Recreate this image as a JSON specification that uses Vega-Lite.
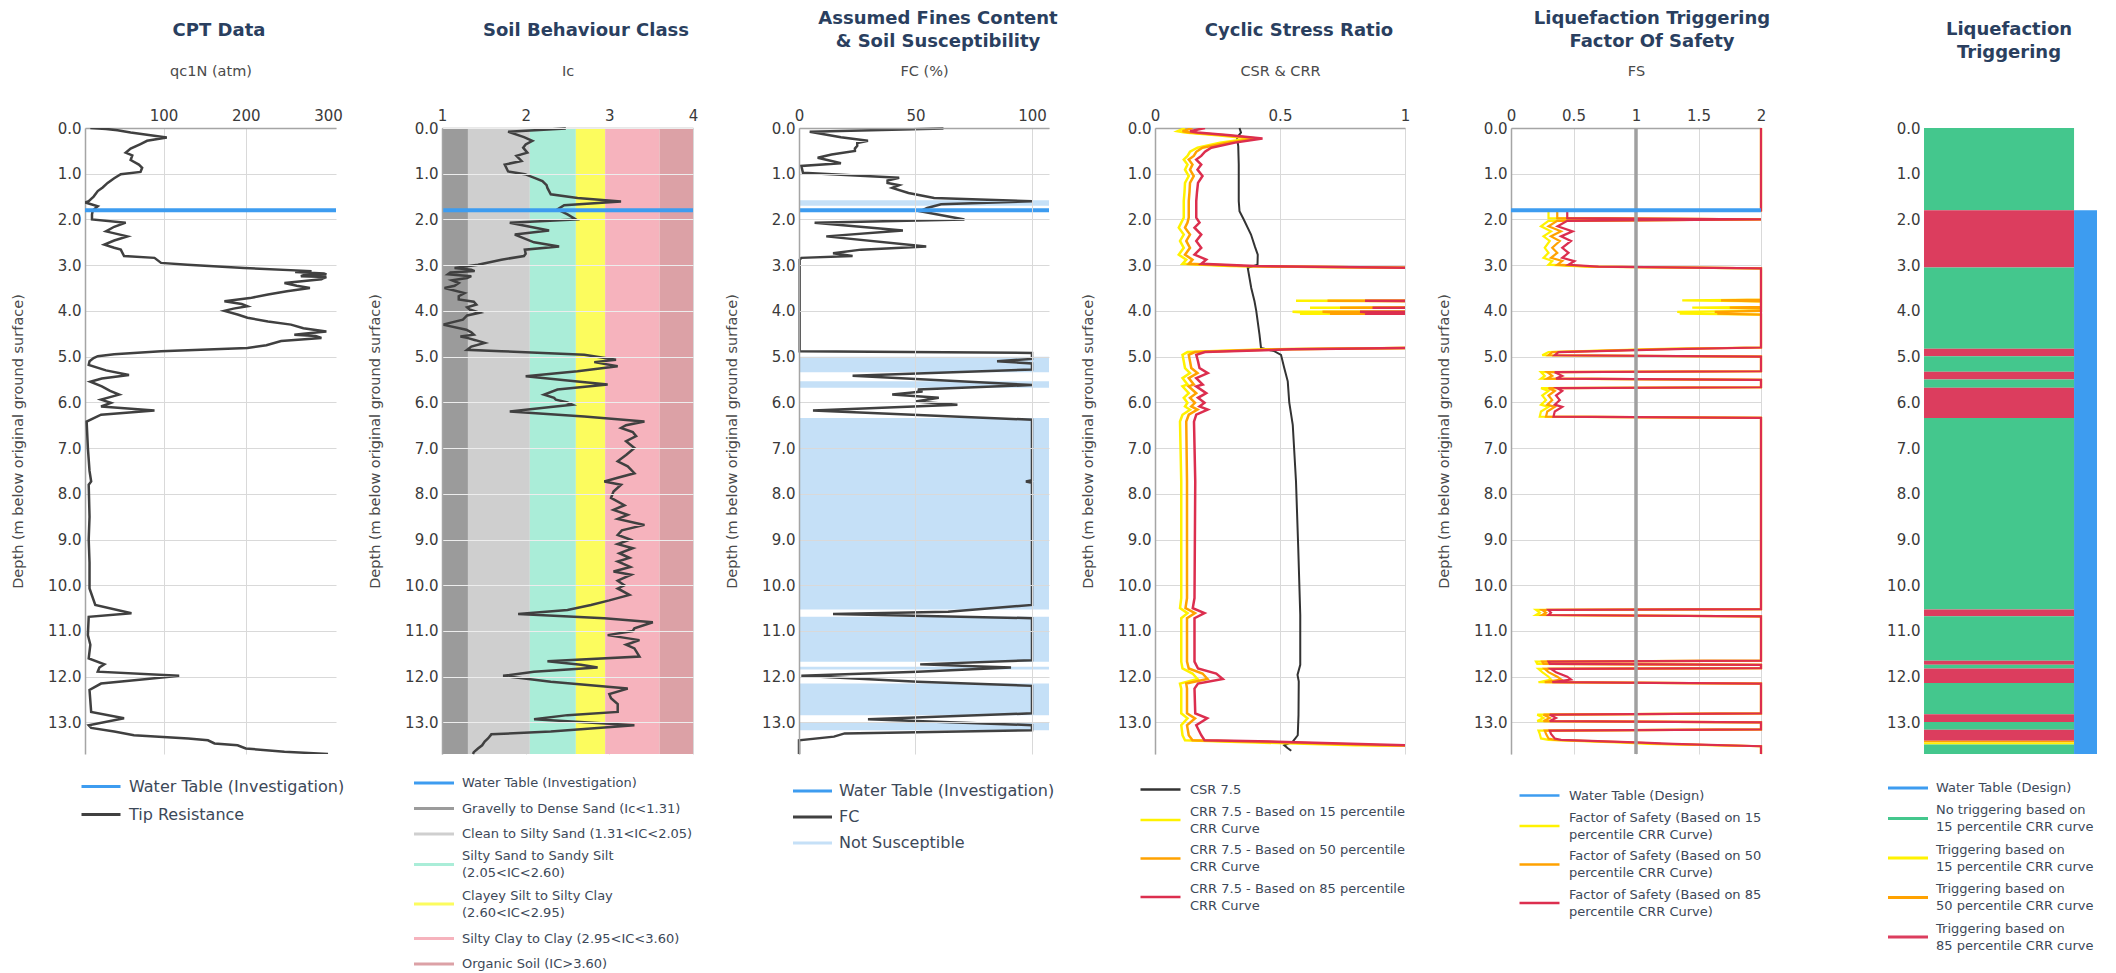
{
  "background": "white",
  "padding": {"left": 10, "top": 9, "right": 10, "bottom": 4},
  "bounds": "flush",
  "spacing": 106,
  "resolve": {"scale": {"color": "independent", "x": "independent", "y": "independent"}},
  "config": {
    "font": "DejaVu Sans",
    "view": {"stroke": null},
    "axis": {"labelFont": "DejaVu Sans", "titleFont": "DejaVu Sans", "labelFontSize": 15, "labelColor": "#3a3a3a", "titleFontSize": 14.5, "titleFontWeight": "normal", "titleColor": "#4a4a4a", "ticks": false, "domainColor": "#a5a5a5", "domainWidth": 1.5, "gridColor": "#d9d9d9", "gridWidth": 1, "labelFlush": false, "labelOverlap": false, "labelBound": false},
    "axisX": {"labelPadding": 5, "titlePadding": 30},
    "axisY": {"labelPadding": 4, "titlePadding": 22},
    "legend": {"padding": 0, "labelFont": "DejaVu Sans", "labelColor": "#3c4858", "labelLimit": 500, "labelOverlap": false, "symbolType": "M-2,0H2", "symbolStrokeWidth": 2.5, "symbolSize": 400, "labelFontSize": 13, "rowPadding": 8.5, "labelOffset": 18, "symbolOpacity": 1},
    "title": {"font": "DejaVu Sans", "fontSize": 18, "fontWeight": "bold", "color": "#2a3f5f", "anchor": "middle", "frame": "group", "baseline": "middle", "offset": 23.5, "lineHeight": 23}
  },
  "datasets": {
    "qc": [{"d":0,"v":11},{"d":0.02,"v":30},{"d":0.05,"v":44},{"d":0.1,"v":60},{"d":0.21,"v":104},{"d":0.28,"v":80},{"d":0.35,"v":72},{"d":0.45,"v":60},{"d":0.54,"v":54},{"d":0.6,"v":62},{"d":0.7,"v":60},{"d":0.8,"v":70},{"d":0.87,"v":74},{"d":0.96,"v":72},{"d":1.01,"v":48},{"d":1.1,"v":40},{"d":1.2,"v":32},{"d":1.3,"v":26},{"d":1.38,"v":20},{"d":1.5,"v":15},{"d":1.6,"v":9},{"d":1.63,"v":5},{"d":1.71,"v":20},{"d":1.8,"v":14},{"d":1.89,"v":13},{"d":2.0,"v":13},{"d":2.07,"v":54},{"d":2.16,"v":40},{"d":2.26,"v":30},{"d":2.37,"v":56},{"d":2.46,"v":40},{"d":2.55,"v":28},{"d":2.62,"v":40},{"d":2.66,"v":48},{"d":2.8,"v":52},{"d":2.84,"v":89},{"d":2.95,"v":97},{"d":2.99,"v":129},{"d":3.06,"v":198},{"d":3.13,"v":280},{"d":3.15,"v":260},{"d":3.18,"v":295},{"d":3.2,"v":298},{"d":3.22,"v":270},{"d":3.24,"v":267},{"d":3.26,"v":298},{"d":3.28,"v":295},{"d":3.31,"v":292},{"d":3.39,"v":247},{"d":3.45,"v":262},{"d":3.5,"v":278},{"d":3.57,"v":250},{"d":3.64,"v":227},{"d":3.72,"v":205},{"d":3.79,"v":174},{"d":3.85,"v":195},{"d":3.9,"v":202},{"d":3.95,"v":185},{"d":4.0,"v":174},{"d":4.08,"v":190},{"d":4.15,"v":202},{"d":4.23,"v":227},{"d":4.3,"v":255},{"d":4.38,"v":270},{"d":4.45,"v":298},{"d":4.5,"v":270},{"d":4.52,"v":259},{"d":4.55,"v":285},{"d":4.59,"v":292},{"d":4.66,"v":243},{"d":4.75,"v":225},{"d":4.81,"v":202},{"d":4.88,"v":97},{"d":4.95,"v":40},{"d":4.99,"v":20},{"d":5.03,"v":15},{"d":5.1,"v":10},{"d":5.18,"v":9},{"d":5.3,"v":30},{"d":5.4,"v":58},{"d":5.48,"v":25},{"d":5.55,"v":11},{"d":5.65,"v":25},{"d":5.75,"v":35},{"d":5.83,"v":46},{"d":5.94,"v":24},{"d":6.01,"v":36},{"d":6.09,"v":24},{"d":6.18,"v":89},{"d":6.27,"v":24},{"d":6.42,"v":6.5},{"d":7.0,"v":8},{"d":7.5,"v":10},{"d":7.73,"v":12},{"d":7.8,"v":9},{"d":8.5,"v":10},{"d":9.0,"v":9},{"d":9.5,"v":10},{"d":10.07,"v":10},{"d":10.43,"v":17},{"d":10.61,"v":61},{"d":10.69,"v":9},{"d":11.09,"v":8},{"d":11.3,"v":11},{"d":11.6,"v":9},{"d":11.73,"v":28},{"d":11.8,"v":22},{"d":11.89,"v":20},{"d":11.98,"v":119},{"d":12.05,"v":80},{"d":12.15,"v":24},{"d":12.29,"v":10},{"d":12.77,"v":12},{"d":12.91,"v":52},{"d":13.06,"v":9},{"d":13.12,"v":12},{"d":13.2,"v":40},{"d":13.28,"v":64},{"d":13.35,"v":130},{"d":13.39,"v":154},{"d":13.46,"v":162},{"d":13.5,"v":190},{"d":13.57,"v":200},{"d":13.64,"v":247},{"d":13.69,"v":300}],
    "ic": [{"d":0.01,"v":2.48},{"d":0.08,"v":1.79},{"d":0.2,"v":1.98},{"d":0.28,"v":2.08},{"d":0.36,"v":2.0},{"d":0.43,"v":1.97},{"d":0.54,"v":2.02},{"d":0.61,"v":1.89},{"d":0.72,"v":1.95},{"d":0.8,"v":1.75},{"d":0.95,"v":1.79},{"d":1.01,"v":1.99},{"d":1.1,"v":2.12},{"d":1.16,"v":2.2},{"d":1.25,"v":2.25},{"d":1.31,"v":2.26},{"d":1.45,"v":2.3},{"d":1.53,"v":2.62},{"d":1.61,"v":3.14},{"d":1.69,"v":2.46},{"d":1.78,"v":2.38},{"d":1.89,"v":2.5},{"d":2.0,"v":2.6},{"d":2.07,"v":1.81},{"d":2.24,"v":2.28},{"d":2.33,"v":1.87},{"d":2.5,"v":2.1},{"d":2.59,"v":2.4},{"d":2.66,"v":1.99},{"d":2.75,"v":2.0},{"d":2.8,"v":1.98},{"d":2.88,"v":1.71},{"d":2.99,"v":1.43},{"d":3.06,"v":1.15},{"d":3.1,"v":1.35},{"d":3.13,"v":1.39},{"d":3.16,"v":1.1},{"d":3.2,"v":1.07},{"d":3.24,"v":1.35},{"d":3.28,"v":1.3},{"d":3.33,"v":1.12},{"d":3.39,"v":1.2},{"d":3.45,"v":1.15},{"d":3.5,"v":1.03},{"d":3.61,"v":1.27},{"d":3.68,"v":1.2},{"d":3.75,"v":1.2},{"d":3.8,"v":1.38},{"d":3.86,"v":1.41},{"d":3.92,"v":1.3},{"d":3.97,"v":1.33},{"d":4.04,"v":1.45},{"d":4.1,"v":1.3},{"d":4.19,"v":1.25},{"d":4.3,"v":1.01},{"d":4.41,"v":1.29},{"d":4.47,"v":1.35},{"d":4.52,"v":1.38},{"d":4.56,"v":1.22},{"d":4.59,"v":1.3},{"d":4.64,"v":1.4},{"d":4.7,"v":1.51},{"d":4.78,"v":1.35},{"d":4.85,"v":1.3},{"d":4.88,"v":1.71},{"d":4.96,"v":2.7},{"d":5.07,"v":3.08},{"d":5.12,"v":2.82},{"d":5.21,"v":3.1},{"d":5.32,"v":2.62},{"d":5.43,"v":2.0},{"d":5.52,"v":2.5},{"d":5.61,"v":2.98},{"d":5.72,"v":2.38},{"d":5.83,"v":2.22},{"d":5.9,"v":2.34},{"d":5.94,"v":2.36},{"d":6.0,"v":2.5},{"d":6.05,"v":2.56},{"d":6.1,"v":2.3},{"d":6.2,"v":1.81},{"d":6.31,"v":2.7},{"d":6.42,"v":3.42},{"d":6.5,"v":3.2},{"d":6.56,"v":3.14},{"d":6.65,"v":3.28},{"d":6.74,"v":3.32},{"d":6.85,"v":3.2},{"d":7.0,"v":3.3},{"d":7.15,"v":3.2},{"d":7.29,"v":3.1},{"d":7.4,"v":3.22},{"d":7.55,"v":3.3},{"d":7.65,"v":3.1},{"d":7.73,"v":2.94},{"d":7.8,"v":3.14},{"d":7.95,"v":3.05},{"d":8.09,"v":3.02},{"d":8.25,"v":3.18},{"d":8.35,"v":3.05},{"d":8.46,"v":3.22},{"d":8.55,"v":3.1},{"d":8.68,"v":3.42},{"d":8.8,"v":3.15},{"d":8.9,"v":3.1},{"d":9.0,"v":3.25},{"d":9.1,"v":3.1},{"d":9.19,"v":3.28},{"d":9.3,"v":3.12},{"d":9.4,"v":3.24},{"d":9.48,"v":3.1},{"d":9.6,"v":3.25},{"d":9.7,"v":3.05},{"d":9.77,"v":3.26},{"d":9.9,"v":3.1},{"d":10.0,"v":3.18},{"d":10.07,"v":3.1},{"d":10.21,"v":3.24},{"d":10.33,"v":3.0},{"d":10.43,"v":2.78},{"d":10.54,"v":2.5},{"d":10.63,"v":1.91},{"d":10.72,"v":2.94},{"d":10.81,"v":3.52},{"d":10.94,"v":3.3},{"d":11.0,"v":3.28},{"d":11.09,"v":2.98},{"d":11.2,"v":3.36},{"d":11.3,"v":3.2},{"d":11.38,"v":3.3},{"d":11.56,"v":3.36},{"d":11.66,"v":2.26},{"d":11.74,"v":2.66},{"d":11.8,"v":2.86},{"d":11.89,"v":2.1},{"d":11.98,"v":1.73},{"d":12.11,"v":2.3},{"d":12.26,"v":3.22},{"d":12.38,"v":3.0},{"d":12.47,"v":3.02},{"d":12.6,"v":3.1},{"d":12.77,"v":3.1},{"d":12.84,"v":2.5},{"d":12.93,"v":2.1},{"d":13.06,"v":3.3},{"d":13.2,"v":2.3},{"d":13.26,"v":1.59},{"d":13.35,"v":1.55},{"d":13.42,"v":1.51},{"d":13.5,"v":1.48},{"d":13.57,"v":1.43},{"d":13.65,"v":1.38},{"d":13.69,"v":1.37}],
    "soil": [{"c":"Gravelly to Dense Sand (Ic<1.31)","x1":1,"x2":1.31},{"c":"Clean to Silty Sand (1.31<IC<2.05)","x1":1.31,"x2":2.05},{"c":"Silty Sand to Sandy Silt|(2.05<IC<2.60)","x1":2.05,"x2":2.6},{"c":"Clayey Silt to Silty Clay|(2.60<IC<2.95)","x1":2.6,"x2":2.95},{"c":"Silty Clay to Clay (2.95<IC<3.60)","x1":2.95,"x2":3.6},{"c":"Organic Soil (IC>3.60)","x1":3.6,"x2":4}],
    "fc": [{"d":0.01,"v":62},{"d":0.08,"v":4.6},{"d":0.2,"v":18},{"d":0.28,"v":29.6},{"d":0.33,"v":25},{"d":0.39,"v":25},{"d":0.45,"v":24},{"d":0.5,"v":24},{"d":0.58,"v":14},{"d":0.65,"v":8},{"d":0.72,"v":14},{"d":0.77,"v":18},{"d":0.83,"v":1},{"d":0.98,"v":1.7},{"d":1.09,"v":43},{"d":1.15,"v":38},{"d":1.2,"v":38},{"d":1.25,"v":43},{"d":1.31,"v":40},{"d":1.42,"v":47},{"d":1.53,"v":58},{"d":1.6,"v":100},{"d":1.67,"v":61},{"d":1.75,"v":55},{"d":1.82,"v":52},{"d":2.0,"v":71},{"d":2.07,"v":6.7},{"d":2.24,"v":44.6},{"d":2.37,"v":11.7},{"d":2.59,"v":54.6},{"d":2.66,"v":26.7},{"d":2.74,"v":14.6},{"d":2.8,"v":23},{"d":2.84,"v":1},{"d":2.88,"v":0.3},{"d":4.88,"v":0.3},{"d":4.92,"v":100},{"d":5.05,"v":100},{"d":5.1,"v":85},{"d":5.15,"v":100},{"d":5.28,"v":100},{"d":5.42,"v":23},{"d":5.62,"v":100},{"d":5.72,"v":51},{"d":5.76,"v":53},{"d":5.83,"v":40},{"d":5.9,"v":60},{"d":5.98,"v":50},{"d":6.05,"v":68},{"d":6.18,"v":6},{"d":6.38,"v":100},{"d":7.7,"v":100},{"d":7.73,"v":97.4},{"d":7.76,"v":100},{"d":10.43,"v":100},{"d":10.58,"v":64},{"d":10.63,"v":14.6},{"d":10.72,"v":100},{"d":11.64,"v":100},{"d":11.73,"v":52},{"d":11.8,"v":91},{"d":11.89,"v":51},{"d":11.98,"v":1},{"d":12.11,"v":51},{"d":12.2,"v":100},{"d":12.8,"v":100},{"d":12.93,"v":29.6},{"d":13.06,"v":100},{"d":13.17,"v":100},{"d":13.24,"v":19.6},{"d":13.31,"v":15},{"d":13.39,"v":0},{"d":13.69,"v":0}],
    "ns": [{"d1":1.58,"d2":1.7},{"d1":5.0,"d2":5.34},{"d1":5.54,"d2":5.68},{"d1":6.34,"d2":10.53},{"d1":10.69,"d2":11.67},{"d1":11.78,"d2":11.84},{"d1":12.15,"d2":12.84},{"d1":13.0,"d2":13.17}],
    "csr": [{"d":0,"v":0.338},{"d":0.1,"v":0.344},{"d":0.21,"v":0.328},{"d":0.4,"v":0.333},{"d":0.8,"v":0.335},{"d":1.6,"v":0.335},{"d":1.82,"v":0.338},{"d":2.0,"v":0.355},{"d":2.33,"v":0.384},{"d":2.6,"v":0.4},{"d":2.77,"v":0.411},{"d":2.99,"v":0.41},{"d":3.06,"v":0.371},{"d":3.5,"v":0.385},{"d":3.79,"v":0.398},{"d":4.0,"v":0.405},{"d":4.52,"v":0.418},{"d":4.81,"v":0.424},{"d":4.88,"v":0.477},{"d":4.96,"v":0.504},{"d":5.25,"v":0.517},{"d":5.54,"v":0.531},{"d":6.0,"v":0.537},{"d":6.49,"v":0.551},{"d":7.73,"v":0.564},{"d":9.19,"v":0.573},{"d":10.65,"v":0.581},{"d":11.74,"v":0.581},{"d":11.96,"v":0.57},{"d":12.1,"v":0.575},{"d":12.84,"v":0.574},{"d":13.28,"v":0.571},{"d":13.42,"v":0.551},{"d":13.5,"v":0.517},{"d":13.56,"v":0.53},{"d":13.62,"v":0.545}],
    "crr": [{"d":0.0,"a":0.12,"b":0.15,"c":0.2},{"d":0.07,"a":0.09,"b":0.11,"c":0.14},{"d":0.1,"a":0.12,"b":0.14,"c":0.17},{"d":0.16,"a":0.25,"b":0.28,"c":0.3},{"d":0.23,"a":0.38,"b":0.41,"c":0.43},{"d":0.32,"a":0.26,"b":0.29,"c":0.32},{"d":0.43,"a":0.17,"b":0.19,"c":0.225},{"d":0.52,"a":0.14,"b":0.165,"c":0.2},{"d":0.61,"a":0.13,"b":0.155,"c":0.185},{"d":0.69,"a":0.115,"b":0.135,"c":0.165},{"d":0.8,"a":0.13,"b":0.15,"c":0.185},{"d":0.91,"a":0.12,"b":0.14,"c":0.17},{"d":1.05,"a":0.135,"b":0.155,"c":0.19},{"d":1.2,"a":0.12,"b":0.14,"c":0.172},{"d":1.4,"a":0.118,"b":0.138,"c":0.168},{"d":1.6,"a":0.115,"b":0.135,"c":0.165},{"d":1.96,"a":0.115,"b":0.135,"c":0.165},{"d":2.07,"a":0.105,"b":0.13,"c":0.178},{"d":2.18,"a":0.095,"b":0.12,"c":0.158},{"d":2.33,"a":0.115,"b":0.14,"c":0.185},{"d":2.47,"a":0.1,"b":0.125,"c":0.165},{"d":2.62,"a":0.115,"b":0.14,"c":0.185},{"d":2.77,"a":0.095,"b":0.12,"c":0.158},{"d":2.88,"a":0.125,"b":0.15,"c":0.205},{"d":2.97,"a":0.11,"b":0.135,"c":0.185},{"d":3.02,"a":0.3,"b":0.35,"c":0.4},{"d":3.06,"a":1.05,"b":1.05,"c":1.05},{"d":3.1,"a":3,"b":3,"c":3},{"d":3.76,"a":3,"b":3,"c":3},{"d":3.78,"a":0.564,"b":0.69,"c":0.84},{"d":3.8,"a":3,"b":3,"c":3},{"d":3.91,"a":3,"b":3,"c":3},{"d":3.93,"a":0.62,"b":0.74,"c":0.87},{"d":3.95,"a":3,"b":3,"c":3},{"d":4.0,"a":3,"b":3,"c":3},{"d":4.02,"a":0.55,"b":0.67,"c":0.82},{"d":4.04,"a":0.62,"b":0.74,"c":0.88},{"d":4.06,"a":0.58,"b":0.7,"c":0.84},{"d":4.08,"a":3,"b":3,"c":3},{"d":4.78,"a":3,"b":3,"c":3},{"d":4.81,"a":1.0,"b":1.0,"c":1.0},{"d":4.84,"a":0.45,"b":0.5,"c":0.55},{"d":4.9,"a":0.13,"b":0.16,"c":0.2},{"d":4.96,"a":0.11,"b":0.135,"c":0.165},{"d":5.1,"a":0.115,"b":0.14,"c":0.172},{"d":5.25,"a":0.12,"b":0.145,"c":0.178},{"d":5.36,"a":0.14,"b":0.17,"c":0.211},{"d":5.47,"a":0.11,"b":0.135,"c":0.165},{"d":5.61,"a":0.13,"b":0.155,"c":0.191},{"d":5.65,"a":0.11,"b":0.135,"c":0.165},{"d":5.8,"a":0.135,"b":0.165,"c":0.205},{"d":5.9,"a":0.115,"b":0.14,"c":0.172},{"d":6.01,"a":0.13,"b":0.16,"c":0.198},{"d":6.09,"a":0.12,"b":0.145,"c":0.178},{"d":6.16,"a":0.14,"b":0.17,"c":0.211},{"d":6.27,"a":0.11,"b":0.135,"c":0.165},{"d":6.42,"a":0.1,"b":0.125,"c":0.156},{"d":7.73,"a":0.105,"b":0.128,"c":0.161},{"d":10.28,"a":0.105,"b":0.128,"c":0.158},{"d":10.5,"a":0.1,"b":0.122,"c":0.151},{"d":10.61,"a":0.13,"b":0.16,"c":0.198},{"d":10.72,"a":0.105,"b":0.128,"c":0.158},{"d":11.67,"a":0.105,"b":0.128,"c":0.158},{"d":11.82,"a":0.11,"b":0.135,"c":0.172},{"d":11.93,"a":0.15,"b":0.19,"c":0.245},{"d":12.05,"a":0.17,"b":0.21,"c":0.271},{"d":12.15,"a":0.1,"b":0.125,"c":0.172},{"d":12.26,"a":0.105,"b":0.128,"c":0.158},{"d":12.8,"a":0.105,"b":0.128,"c":0.161},{"d":12.91,"a":0.13,"b":0.16,"c":0.209},{"d":13.06,"a":0.105,"b":0.128,"c":0.165},{"d":13.28,"a":0.11,"b":0.135,"c":0.185},{"d":13.39,"a":0.12,"b":0.15,"c":0.198},{"d":13.42,"a":0.3,"b":0.4,"c":0.49},{"d":13.5,"a":0.8,"b":0.9,"c":1.0},{"d":13.56,"a":3,"b":3,"c":3},{"d":13.69,"a":3,"b":3,"c":3}],
    "fs": [{"d":0,"a":2,"b":2,"c":2},{"d":1.8,"a":2,"b":2,"c":2},{"d":1.81,"a":0.3,"b":0.37,"c":0.45},{"d":1.97,"a":0.3,"b":0.37,"c":0.45},{"d":2.0,"a":2,"b":2,"c":2},{"d":2.03,"a":0.3,"b":0.37,"c":0.45},{"d":2.15,"a":0.24,"b":0.3,"c":0.373},{"d":2.26,"a":0.32,"b":0.4,"c":0.493},{"d":2.37,"a":0.26,"b":0.32,"c":0.4},{"d":2.47,"a":0.31,"b":0.39,"c":0.48},{"d":2.62,"a":0.27,"b":0.33,"c":0.41},{"d":2.73,"a":0.3,"b":0.37,"c":0.46},{"d":2.84,"a":0.26,"b":0.32,"c":0.41},{"d":2.91,"a":0.33,"b":0.41,"c":0.507},{"d":2.99,"a":0.3,"b":0.37,"c":0.46},{"d":3.03,"a":0.6,"b":0.65,"c":0.7},{"d":3.07,"a":2,"b":2,"c":2},{"d":3.75,"a":2,"b":2,"c":2},{"d":3.77,"a":1.37,"b":1.68,"c":2},{"d":3.79,"a":2,"b":2,"c":2},{"d":3.91,"a":2,"b":2,"c":2},{"d":3.93,"a":1.45,"b":1.75,"c":2},{"d":3.95,"a":2,"b":2,"c":2},{"d":4.0,"a":2,"b":2,"c":2},{"d":4.02,"a":1.33,"b":1.63,"c":2},{"d":4.04,"a":1.42,"b":1.72,"c":2},{"d":4.06,"a":1.35,"b":1.65,"c":2},{"d":4.08,"a":2,"b":2,"c":2},{"d":4.8,"a":2,"b":2,"c":2},{"d":4.83,"a":1.2,"b":1.3,"c":1.4},{"d":4.9,"a":0.3,"b":0.33,"c":0.38},{"d":4.97,"a":0.25,"b":0.3,"c":0.35},{"d":5.0,"a":2,"b":2,"c":2},{"d":5.32,"a":2,"b":2,"c":2},{"d":5.34,"a":0.24,"b":0.29,"c":0.35},{"d":5.42,"a":0.27,"b":0.33,"c":0.41},{"d":5.48,"a":0.24,"b":0.29,"c":0.36},{"d":5.51,"a":2,"b":2,"c":2},{"d":5.67,"a":2,"b":2,"c":2},{"d":5.69,"a":0.24,"b":0.3,"c":0.37},{"d":5.75,"a":0.3,"b":0.35,"c":0.41},{"d":5.85,"a":0.25,"b":0.3,"c":0.36},{"d":5.95,"a":0.28,"b":0.33,"c":0.39},{"d":6.05,"a":0.24,"b":0.29,"c":0.35},{"d":6.1,"a":0.3,"b":0.35,"c":0.41},{"d":6.2,"a":0.24,"b":0.29,"c":0.35},{"d":6.31,"a":0.23,"b":0.28,"c":0.34},{"d":6.34,"a":2,"b":2,"c":2},{"d":10.52,"a":2,"b":2,"c":2},{"d":10.54,"a":0.2,"b":0.25,"c":0.3},{"d":10.6,"a":0.23,"b":0.28,"c":0.32},{"d":10.65,"a":0.2,"b":0.25,"c":0.3},{"d":10.68,"a":2,"b":2,"c":2},{"d":11.65,"a":2,"b":2,"c":2},{"d":11.67,"a":0.2,"b":0.25,"c":0.3},{"d":11.72,"a":0.21,"b":0.26,"c":0.31},{"d":11.74,"a":2,"b":2,"c":2},{"d":11.81,"a":2,"b":2,"c":2},{"d":11.83,"a":0.22,"b":0.27,"c":0.32},{"d":11.9,"a":0.25,"b":0.3,"c":0.36},{"d":12.0,"a":0.3,"b":0.37,"c":0.45},{"d":12.06,"a":0.32,"b":0.4,"c":0.48},{"d":12.12,"a":0.22,"b":0.27,"c":0.33},{"d":12.15,"a":2,"b":2,"c":2},{"d":12.8,"a":2,"b":2,"c":2},{"d":12.83,"a":0.21,"b":0.26,"c":0.31},{"d":12.9,"a":0.26,"b":0.31,"c":0.36},{"d":12.97,"a":0.21,"b":0.26,"c":0.31},{"d":13.0,"a":2,"b":2,"c":2},{"d":13.15,"a":2,"b":2,"c":2},{"d":13.18,"a":0.22,"b":0.27,"c":0.31},{"d":13.25,"a":0.23,"b":0.28,"c":0.32},{"d":13.35,"a":0.24,"b":0.3,"c":0.35},{"d":13.38,"a":0.3,"b":0.35,"c":0.4},{"d":13.44,"a":0.9,"b":1.0,"c":1.05},{"d":13.47,"a":1.1,"b":1.2,"c":1.3},{"d":13.52,"a":2,"b":2,"c":2},{"d":13.69,"a":2,"b":2,"c":2}],
    "trig": [{"d1":0,"d2":1.8,"c":"No triggering based on|15 percentile CRR curve"},{"d1":1.8,"d2":3.05,"c":"Triggering based on|85 percentile CRR curve"},{"d1":3.05,"d2":4.83,"c":"No triggering based on|15 percentile CRR curve"},{"d1":4.83,"d2":4.99,"c":"Triggering based on|85 percentile CRR curve"},{"d1":4.99,"d2":5.33,"c":"No triggering based on|15 percentile CRR curve"},{"d1":5.33,"d2":5.5,"c":"Triggering based on|85 percentile CRR curve"},{"d1":5.5,"d2":5.68,"c":"No triggering based on|15 percentile CRR curve"},{"d1":5.68,"d2":6.34,"c":"Triggering based on|85 percentile CRR curve"},{"d1":6.34,"d2":10.53,"c":"No triggering based on|15 percentile CRR curve"},{"d1":10.53,"d2":10.68,"c":"Triggering based on|85 percentile CRR curve"},{"d1":10.68,"d2":11.65,"c":"No triggering based on|15 percentile CRR curve"},{"d1":11.65,"d2":11.74,"c":"Triggering based on|85 percentile CRR curve"},{"d1":11.74,"d2":11.82,"c":"No triggering based on|15 percentile CRR curve"},{"d1":11.82,"d2":12.14,"c":"Triggering based on|85 percentile CRR curve"},{"d1":12.14,"d2":12.82,"c":"No triggering based on|15 percentile CRR curve"},{"d1":12.82,"d2":12.99,"c":"Triggering based on|85 percentile CRR curve"},{"d1":12.99,"d2":13.16,"c":"No triggering based on|15 percentile CRR curve"},{"d1":13.16,"d2":13.4,"c":"Triggering based on|85 percentile CRR curve"},{"d1":13.4,"d2":13.44,"c":"Triggering based on|50 percentile CRR curve"},{"d1":13.44,"d2":13.48,"c":"Triggering based on|15 percentile CRR curve"},{"d1":13.48,"d2":13.69,"c":"No triggering based on|15 percentile CRR curve"}],
    "wt": [{"d": 1.8}],
    "wtstrip": [{"d1": 1.8, "d2": 13.69}]
  },
  "hconcat": [
    {
      "width": 251, "height": 626,
      "title": {"text": "CPT Data", "dx": 8.5},
      "layer": [
        {"data": {"name": "qc"}, "mark": {"type": "line", "strokeWidth": 2.5, "clip": true},
         "encoding": {
          "x": {"field": "v", "type": "quantitative", "scale": {"domain": [4.5, 309.7], "nice": false, "zero": false}, "axis": {"orient": "top", "title": "qc1N (atm)", "values": [100, 200, 300], "gridColor": {"condition": {"test": "datum.value >= 300", "value": "transparent"}, "value": "#d9d9d9"}}},
          "y": {"field": "d", "type": "quantitative", "scale": {"domain": [0, 13.69], "reverse": true, "nice": false, "zero": false}, "axis": {"title": "Depth (m below original ground surface)", "values": [0,1,2,3,4,5,6,7,8,9,10,11,12,13], "format": ".1f"}},
          "order": {"field": "d", "type": "quantitative"},
          "color": {"datum": "Tip Resistance", "type": "nominal", "scale": {"domain": ["Water Table (Investigation)", "Tip Resistance"], "range": ["#3d9cf0", "#404040"]},
            "legend": {"orient": "none", "legendX": 4.5, "legendY": 647, "title": null, "labelFontSize": 16, "symbolType": "M-1.95,0H1.95", "symbolStrokeWidth": 3, "rowPadding": 8, "labelOffset": 16.5, "labelExpr": "split(datum.label, '|')"}}
         }},
        {"data": {"name": "wt"}, "mark": {"type": "rule", "strokeWidth": 4},
         "encoding": {"y": {"field": "d", "type": "quantitative"}, "color": {"datum": "Water Table (Investigation)", "type": "nominal"}}}
      ]
    },
    {
      "width": 251, "height": 626,
      "title": {"text": "Soil Behaviour Class", "dx": 18.5},
      "layer": [
        {"data": {"name": "soil"}, "mark": {"type": "rect"},
         "encoding": {
          "x": {"field": "x1", "type": "quantitative", "scale": {"domain": [1, 4], "nice": false, "zero": false}, "axis": {"orient": "top", "title": "Ic", "values": [1, 2, 3, 4], "format": "d"}},
          "x2": {"field": "x2"},
          "color": {"field": "c", "type": "nominal",
            "scale": {"domain": ["Water Table (Investigation)", "Gravelly to Dense Sand (Ic<1.31)", "Clean to Silty Sand (1.31<IC<2.05)", "Silty Sand to Sandy Silt|(2.05<IC<2.60)", "Clayey Silt to Silty Clay|(2.60<IC<2.95)", "Silty Clay to Clay (2.95<IC<3.60)", "Organic Soil (IC>3.60)"],
                      "range": ["#3d9cf0", "#9b9b9b", "#cfcfcf", "#aaedd8", "#fcfc5e", "#f6b3bd", "#dca1a6"]},
            "legend": {"orient": "none", "legendX": -18, "legendY": 645, "title": null, "symbolType": "M-2,-0.15H2V0.15H-2Z", "symbolStrokeWidth": 0, "labelExpr": "split(datum.label, '|')", "encode": {"labels": {"update": {"lineHeight": {"value": 17}, "dy": {"signal": "indexof(datum.value, '|') >= 0 ? -8.5 : 0"}}}}}}
         }},
        {"data": {"name": "ic"}, "mark": {"type": "line", "color": "#404040", "strokeWidth": 2.5},
         "encoding": {
          "x": {"field": "v", "type": "quantitative"},
          "y": {"field": "d", "type": "quantitative", "scale": {"domain": [0, 13.69], "reverse": true, "nice": false, "zero": false}, "axis": {"title": "Depth (m below original ground surface)", "values": [0,1,2,3,4,5,6,7,8,9,10,11,12,13], "format": ".1f", "zindex": 1, "gridColor": "#ededed"}},
          "order": {"field": "d", "type": "quantitative"}
         }},
        {"data": {"name": "wt"}, "mark": {"type": "rule", "strokeWidth": 4},
         "encoding": {"y": {"field": "d", "type": "quantitative"}, "color": {"datum": "Water Table (Investigation)", "type": "nominal"}}}
      ]
    },
    {
      "width": 250, "height": 626,
      "title": {"text": ["Assumed Fines Content", "& Soil Susceptibility"], "dx": 14, "offset": 12.5},
      "layer": [
        {"data": {"name": "ns"}, "mark": {"type": "rect"},
         "encoding": {
          "y": {"field": "d1", "type": "quantitative", "scale": {"domain": [0, 13.69], "reverse": true, "nice": false, "zero": false}, "axis": {"title": "Depth (m below original ground surface)", "values": [0,1,2,3,4,5,6,7,8,9,10,11,12,13], "format": ".1f", "zindex": 1}},
          "y2": {"field": "d2"},
          "color": {"datum": "Not Susceptible", "type": "nominal",
            "scale": {"domain": ["Water Table (Investigation)", "FC", "Not Susceptible"], "range": ["#3d9cf0", "#404040", "#c5e0f7"]},
            "legend": {"orient": "none", "legendX": 3.5, "legendY": 653, "title": null, "labelFontSize": 16, "symbolType": "M-1.95,-0.15H1.95V0.15H-1.95Z", "symbolStrokeWidth": 0, "rowPadding": 8, "labelOffset": 16.5, "labelExpr": "split(datum.label, '|')"}}
         }},
        {"data": {"name": "fc"}, "mark": {"type": "line", "strokeWidth": 2.5},
         "encoding": {
          "x": {"field": "v", "type": "quantitative", "scale": {"domain": [0, 107.3], "nice": false, "zero": false}, "axis": {"orient": "top", "title": "FC (%)", "values": [0, 50, 100], "zindex": 1}},
          "y": {"field": "d", "type": "quantitative"},
          "order": {"field": "d", "type": "quantitative"},
          "color": {"datum": "FC", "type": "nominal"}
         }},
        {"data": {"name": "wt"}, "mark": {"type": "rule", "strokeWidth": 4},
         "encoding": {"y": {"field": "d", "type": "quantitative"}, "color": {"datum": "Water Table (Investigation)", "type": "nominal"}}}
      ]
    },
    {
      "width": 250, "height": 626,
      "title": {"text": "Cyclic Stress Ratio", "dx": 19},
      "layer": [
        {"data": {"name": "csr"}, "mark": {"type": "line", "strokeWidth": 2},
         "encoding": {
          "x": {"field": "v", "type": "quantitative", "scale": {"domain": [0, 1], "nice": false, "zero": false}, "axis": {"orient": "top", "title": "CSR & CRR", "values": [0, 0.5, 1], "format": "~g"}},
          "y": {"field": "d", "type": "quantitative", "scale": {"domain": [0, 13.69], "reverse": true, "nice": false, "zero": false}, "axis": {"title": "Depth (m below original ground surface)", "values": [0,1,2,3,4,5,6,7,8,9,10,11,12,13], "format": ".1f"}},
          "order": {"field": "d", "type": "quantitative"},
          "color": {"datum": "CSR 7.5", "type": "nominal",
            "scale": {"domain": ["CSR 7.5", "CRR 7.5 - Based on 15 percentile|CRR Curve", "CRR 7.5 - Based on 50 percentile|CRR Curve", "CRR 7.5 - Based on 85 percentile|CRR Curve"], "range": ["#333333", "#fff200", "#ffa200", "#dc2e4e"]},
            "legend": {"orient": "none", "legendX": -6, "legendY": 650, "title": null, "labelExpr": "split(datum.label, '|')", "encode": {"labels": {"update": {"lineHeight": {"value": 17}, "dy": {"signal": "indexof(datum.value, '|') >= 0 ? -8.5 : 0"}}}}}}
         }},
        {"data": {"name": "crr"}, "mark": {"type": "line", "strokeWidth": 2.5, "clip": true},
         "encoding": {"x": {"field": "a", "type": "quantitative"}, "y": {"field": "d", "type": "quantitative"}, "order": {"field": "d", "type": "quantitative"}, "color": {"datum": "CRR 7.5 - Based on 15 percentile|CRR Curve", "type": "nominal"}}},
        {"data": {"name": "crr"}, "mark": {"type": "line", "strokeWidth": 2.5, "clip": true},
         "encoding": {"x": {"field": "b", "type": "quantitative"}, "y": {"field": "d", "type": "quantitative"}, "order": {"field": "d", "type": "quantitative"}, "color": {"datum": "CRR 7.5 - Based on 50 percentile|CRR Curve", "type": "nominal"}}},
        {"data": {"name": "crr"}, "mark": {"type": "line", "strokeWidth": 2.5, "clip": true},
         "encoding": {"x": {"field": "c", "type": "quantitative"}, "y": {"field": "d", "type": "quantitative"}, "order": {"field": "d", "type": "quantitative"}, "color": {"datum": "CRR 7.5 - Based on 85 percentile|CRR Curve", "type": "nominal"}}}
      ]
    },
    {
      "width": 250, "height": 626,
      "title": {"text": ["Liquefaction Triggering", "Factor Of Safety"], "dx": 16, "offset": 12.5},
      "layer": [
        {"data": {"name": "fs"}, "mark": {"type": "line", "strokeWidth": 2.2},
         "encoding": {
          "x": {"field": "a", "type": "quantitative", "scale": {"domain": [0, 2], "nice": false, "zero": false}, "axis": {"orient": "top", "title": "FS", "values": [0, 0.5, 1, 1.5, 2], "format": "~g"}},
          "y": {"field": "d", "type": "quantitative", "scale": {"domain": [0, 13.69], "reverse": true, "nice": false, "zero": false}, "axis": {"title": "Depth (m below original ground surface)", "values": [0,1,2,3,4,5,6,7,8,9,10,11,12,13], "format": ".1f"}},
          "order": {"field": "d", "type": "quantitative"},
          "color": {"datum": "Factor of Safety (Based on 15|percentile CRR Curve)", "type": "nominal",
            "scale": {"domain": ["Water Table (Design)", "Factor of Safety (Based on 15|percentile CRR Curve)", "Factor of Safety (Based on 50|percentile CRR Curve)", "Factor of Safety (Based on 85|percentile CRR Curve)"], "range": ["#3d9cf0", "#fff200", "#ffa200", "#dc2e4e"]},
            "legend": {"orient": "none", "legendX": 17, "legendY": 656, "title": null, "labelExpr": "split(datum.label, '|')", "encode": {"labels": {"update": {"lineHeight": {"value": 17}, "dy": {"signal": "indexof(datum.value, '|') >= 0 ? -8.5 : 0"}}}}}}
         }},
        {"data": {"name": "fs"}, "mark": {"type": "line", "strokeWidth": 2.2},
         "encoding": {"x": {"field": "b", "type": "quantitative"}, "y": {"field": "d", "type": "quantitative"}, "order": {"field": "d", "type": "quantitative"}, "color": {"datum": "Factor of Safety (Based on 50|percentile CRR Curve)", "type": "nominal"}}},
        {"data": {"name": "fs"}, "mark": {"type": "line", "strokeWidth": 2.2},
         "encoding": {"x": {"field": "c", "type": "quantitative"}, "y": {"field": "d", "type": "quantitative"}, "order": {"field": "d", "type": "quantitative"}, "color": {"datum": "Factor of Safety (Based on 85|percentile CRR Curve)", "type": "nominal"}}},
        {"data": {"name": "wt"}, "mark": {"type": "rule", "strokeWidth": 3.5, "color": "#a0a0a0"},
         "encoding": {"x": {"datum": 1, "type": "quantitative"}}},
        {"data": {"name": "wt"}, "mark": {"type": "rule", "strokeWidth": 4},
         "encoding": {"y": {"field": "d", "type": "quantitative"}, "color": {"datum": "Water Table (Design)", "type": "nominal"}}}
      ]
    },
    {
      "width": 230, "height": 626,
      "title": {"text": ["Liquefaction", "Triggering"], "dx": 27, "offset": 59},
      "layer": [
        {"data": {"name": "trig"}, "mark": {"type": "rect"},
         "encoding": {
          "x": {"datum": 0, "type": "quantitative", "scale": {"domain": [-0.38, 1.153], "nice": false, "zero": false}, "axis": null},
          "x2": {"datum": 1},
          "y": {"field": "d1", "type": "quantitative", "scale": {"domain": [0, 13.69], "reverse": true, "nice": false, "zero": false}, "axis": {"title": null, "values": [0,1,2,3,4,5,6,7,8,9,10,11,12,13], "format": ".1f", "grid": false, "domain": false, "offset": -57}},
          "y2": {"field": "d2"},
          "color": {"field": "c", "type": "nominal",
            "scale": {"domain": ["Water Table (Design)", "No triggering based on|15 percentile CRR curve", "Triggering based on|15 percentile CRR curve", "Triggering based on|50 percentile CRR curve", "Triggering based on|85 percentile CRR curve"], "range": ["#3d9cf0", "#44c78d", "#fff200", "#ffa200", "#dc3d5e"]},
            "legend": {"orient": "none", "legendX": 31, "legendY": 650, "title": null, "symbolType": "M-2,-0.15H2V0.15H-2Z", "symbolStrokeWidth": 0, "labelExpr": "split(datum.label, '|')", "encode": {"labels": {"update": {"lineHeight": {"value": 17}, "dy": {"signal": "indexof(datum.value, '|') >= 0 ? -8.5 : 0"}}}}}}
         }},
        {"data": {"name": "wtstrip"}, "mark": {"type": "rect"},
         "encoding": {
          "x": {"datum": 1, "type": "quantitative"},
          "x2": {"datum": 1.153},
          "y": {"field": "d1", "type": "quantitative"},
          "y2": {"field": "d2"},
          "color": {"datum": "Water Table (Design)", "type": "nominal"}
         }}
      ]
    }
  ]
}
